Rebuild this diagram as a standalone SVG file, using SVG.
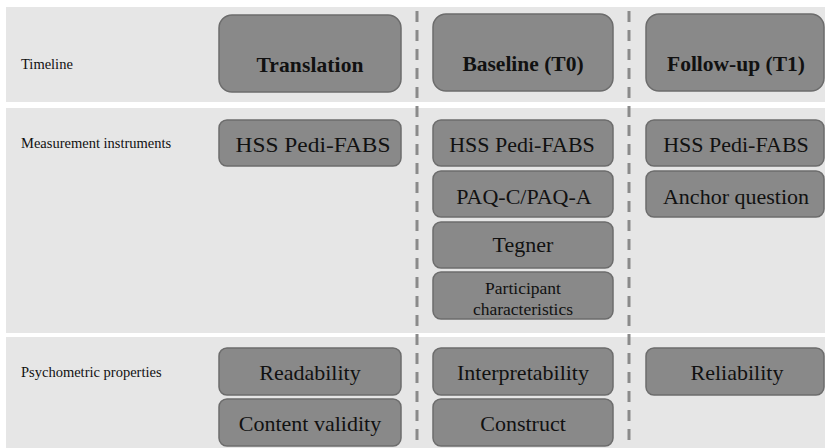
<svg xmlns="http://www.w3.org/2000/svg" width="825" height="448" viewBox="0 0 825 448">
<defs>
<style type="text/css">
.band{fill:#e6e6e6}
.box{fill:#898989;stroke:#6c6c6c;stroke-width:1.5}
.dash{stroke:#8a8a8a;stroke-width:3;stroke-dasharray:11 8;fill:none}
</style>
</defs>
<rect width="825" height="448" fill="#ffffff"/>
<g id="bands">
<rect class="band" x="6" y="7" width="819" height="95"/>
<rect class="band" x="6" y="108" width="819" height="225"/>
<rect class="band" x="6" y="337" width="819" height="111"/>
</g>
<g id="row-labels" font-family="Liberation Serif" font-size="14.5" fill="#111">
<text x="21" y="69">Timeline</text>
<text x="21" y="148">Measurement instruments</text>
<text x="21" y="377">Psychometric properties</text>
</g>
<g id="connectors">
<line class="dash" x1="417" y1="11" x2="417" y2="448"/>
<line class="dash" x1="629" y1="11" x2="629" y2="448"/>
</g>
<g font-family="Liberation Serif" font-size="21.5" font-weight="bold" fill="#111" text-anchor="middle">
<g id="translation">
<rect class="box" x="219" y="15" width="182" height="77" rx="13"/>
<text x="310" y="72" textLength="107" lengthAdjust="spacing">Translation</text>
</g>
<g id="baseline">
<rect class="box" x="433" y="14" width="180" height="77" rx="13"/>
<text x="523" y="71">Baseline (T0)</text>
</g>
<g id="followup">
<rect class="box" x="646" y="14" width="178" height="77" rx="13"/>
<text x="736" y="71">Follow-up (T1)</text>
</g>
</g>
<g font-family="Liberation Serif" font-size="22" fill="#111" text-anchor="middle">
<g id="tr-hss">
<rect class="box" x="219" y="120" width="182" height="46" rx="8"/>
<text x="313" y="152" textLength="155" lengthAdjust="spacingAndGlyphs">HSS Pedi-FABS</text>
</g>
<g id="bl-hss">
<rect class="box" x="433" y="120" width="180" height="46" rx="8"/>
<text x="522" y="152">HSS Pedi-FABS</text>
</g>
<g id="fu-hss">
<rect class="box" x="646" y="120" width="178" height="46" rx="8"/>
<text x="736" y="152">HSS Pedi-FABS</text>
</g>
<g id="bl-paq">
<rect class="box" x="433" y="171" width="180" height="46" rx="8"/>
<text x="524" y="204">PAQ-C/PAQ-A</text>
</g>
<g id="fu-anchor">
<rect class="box" x="646" y="171" width="178" height="46" rx="8"/>
<text x="736" y="204">Anchor question</text>
</g>
<g id="bl-tegner">
<rect class="box" x="433" y="222" width="180" height="46" rx="8"/>
<text x="523" y="252">Tegner</text>
</g>
<g id="bl-participant" font-size="17.5">
<rect class="box" x="433" y="272" width="180" height="47" rx="8"/>
<text x="523" y="294">Participant</text>
<text x="523" y="315">characteristics</text>
</g>
<g id="tr-readability">
<rect class="box" x="219" y="348" width="182" height="47" rx="8"/>
<text x="310" y="380">Readability</text>
</g>
<g id="tr-content">
<rect class="box" x="219" y="399" width="182" height="47" rx="8"/>
<text x="310" y="431">Content validity</text>
</g>
<g id="bl-interpretability">
<rect class="box" x="433" y="348" width="180" height="47" rx="8"/>
<text x="523" y="380">Interpretability</text>
</g>
<g id="bl-construct">
<rect class="box" x="433" y="399" width="180" height="47" rx="8"/>
<text x="523" y="431">Construct</text>
</g>
<g id="fu-reliability">
<rect class="box" x="646" y="348" width="178" height="47" rx="8"/>
<text x="737" y="380">Reliability</text>
</g>
</g>
</svg>
